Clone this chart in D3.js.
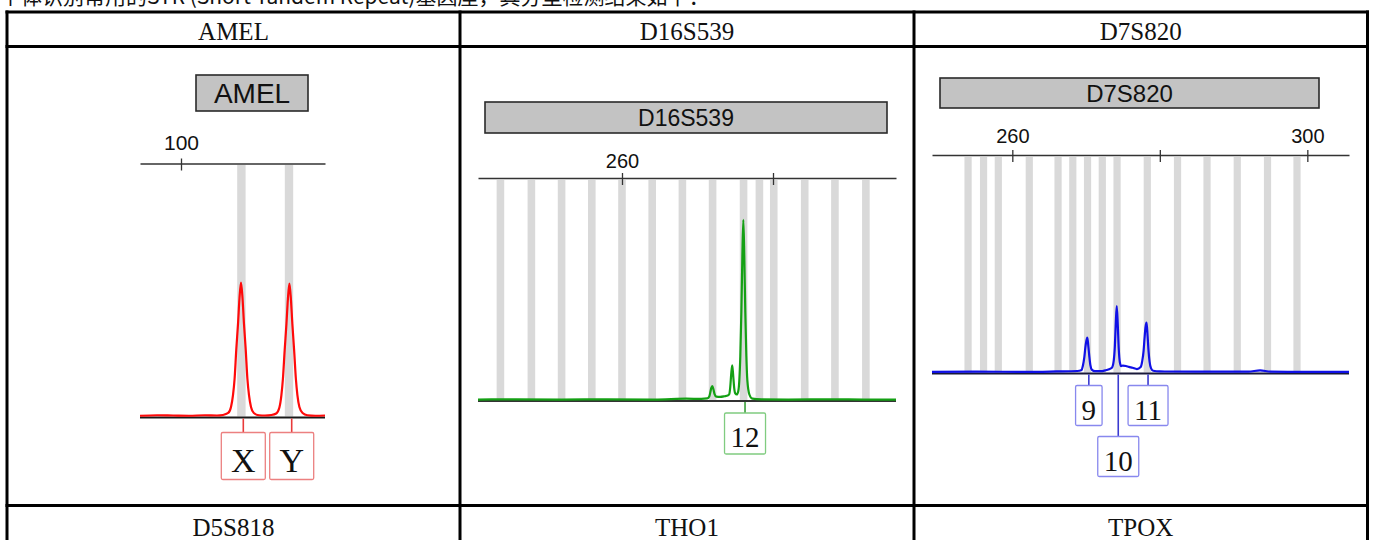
<!DOCTYPE html>
<html><head><meta charset="utf-8">
<script src="https://cdn.jsdelivr.net/npm/d3@7"></script>
<style>html,body{margin:0;padding:0;background:#fff;overflow:hidden}</style>
</head><body><svg id="c" width="1375" height="540"></svg>
<script>
// ---------------- data ----------------
const captionText = "个体识别常用的STR (Short Tandem Repeat)基因座，其分型检测结果如下：";
const topHeaders = ["AMEL", "D16S539", "D7S820"];
const bottomHeaders = ["D5S818", "THO1", "TPOX"];

// AMEL panel (size in bp, height in RFU-like units 0..1000)
const amelName = "AMEL";
const amelRange = [94.875, 118];
const amelTicks = [100];
const amelTickLabels = ["100"];
const amelBins = [107.55, 113.5];
const amelAlleles = ["X", "Y"];
const amelAlleleSizes = [107.5, 113.55];
const amelAlleleLevels = [0, 0];
const amelTrace = [
  [94.875,3],[97,5],[99,4],[101,3],[103,5],[104.5,4],[105.25,6],[105.9,14],[106.25,38],[106.5,85],
  [106.7,150],[106.91,266],[107.13,370],[107.31,470],[107.5,532],[107.69,470],[107.87,370],[108.09,266],
  [108.3,150],[108.5,85],[108.75,38],[109.1,14],[109.75,5],[110.5,4],[111.3,6],[111.9,12],[112.3,36],
  [112.55,85],[112.74,150],[112.96,264],[113.18,368],[113.36,466],[113.55,528],[113.74,466],[113.92,368],
  [114.14,264],[114.36,150],[114.55,85],[114.8,38],[115.2,14],[115.8,5],[116.8,3],[118,4]
];

// D16S539 panel
const d16Name = "D16S539";
const d16Range = [240.93, 296.29];
const d16Ticks = [260, 280];
const d16TickLabels = ["260", ""];
const d16Bins = [243.9, 248.0, 252.0, 256.0, 260.0, 264.0, 268.0, 272.0, 276.1, 278.2, 280.1, 284.2, 288.2, 292.3];
const d16Alleles = ["12"];
const d16AlleleSizes = [276.07];
const d16AlleleLevels = [0];
const d16Trace = [
  [240.93,2],[246,3],[252,2],[258,3],[264,2],[266.5,4],[268.5,6],[270.5,5],[271.3,7],[271.56,16],
  [271.7,35],[271.83,55],[271.96,63],[272.1,50],[272.25,28],[272.5,15],[273,14],[273.6,17],[274.0,20],
  [274.2,26],[274.34,60],[274.47,120],[274.6,157],[274.73,110],[274.86,55],[275.0,30],[275.2,25],
  [275.4,40],[275.54,90],[275.67,200],[275.81,400],[275.94,650],[276.07,819],[276.2,650],[276.33,400],
  [276.47,200],[276.6,90],[276.87,25],[277.27,6],[278.5,3],[282,2],[288,3],[292,2],[296.29,2]
];

// D7S820 panel
const d7Name = "D7S820";
const d7Range = [249.11, 305.65];
const d7Ticks = [260, 280, 300];
const d7TickLabels = ["260", "", "300"];
const d7Bins = [254.0, 256.1, 258.1, 262.3, 266.2, 268.2, 270.2, 272.2, 274.2, 278.3, 282.4, 286.4, 290.5, 294.6, 298.6];
const d7Alleles = ["9", "10", "11"];
const d7AlleleSizes = [270.17, 274.16, 278.2];
const d7AlleleLevels = [0, 1, 0];
const d7Trace = [
  [249.11,3],[255,4],[262,3],[266,5],[268.8,7],[269.4,12],[269.56,30],[269.76,70],[269.9,115],[270.03,145],
  [270.17,162],[270.3,125],[270.44,75],[270.58,35],[270.8,12],[271.2,6],[272,6],[272.6,10],[273.1,15],
  [273.5,22],[273.75,55],[273.9,120],[274.03,230],[274.16,308],[274.3,220],[274.43,110],[274.57,50],
  [274.75,30],[275.0,32],[275.4,30],[275.8,26],[276.3,22],[276.9,16],[277.4,25],[277.6,50],[277.8,100],
  [277.93,160],[278.06,210],[278.2,231],[278.34,170],[278.47,100],[278.61,50],[278.8,20],[279.1,8],
  [280,5],[285,4],[292,4],[293.6,10],[295,4],[300,3],[305.65,3]
];

// ---------------- layout / style ----------------
const svg = d3.select("#c");
svg.append("rect").attr("width",1375).attr("height",540).attr("fill","#fff");

const SERIF = "'Liberation Serif', 'Times New Roman', serif";
const SANS = "'Liberation Sans', Arial, sans-serif";

// caption (cut off at the top of the picture, as in the reference)
svg.append("text").attr("x", 0).attr("y", 4)
  .attr("font-family", "'Noto Sans CJK SC', sans-serif").attr("font-size", 21).attr("fill", "#111")
  .text(captionText);

// table grid
const colX = [7, 460, 914, 1367.5];
const rowY = [12, 46.5, 505.5];
const grid = svg.append("g").attr("stroke", "#000").attr("stroke-width", 3);
rowY.forEach(yv => grid.append("line").attr("x1", colX[0] - 1.5).attr("x2", colX[3] + 1.5).attr("y1", yv).attr("y2", yv));
colX.forEach(xv => grid.append("line").attr("x1", xv).attr("x2", xv).attr("y1", rowY[0] - 1.5).attr("y2", 540));

const colCenters = [0,1,2].map(i => (colX[i] + colX[i+1]) / 2);
svg.selectAll("text.h1").data(topHeaders).join("text").attr("class","h1")
  .attr("x", (d,i) => colCenters[i]).attr("y", 40).attr("text-anchor","middle")
  .attr("font-family", SERIF).attr("font-size", 25).attr("fill","#111").text(d => d);
svg.selectAll("text.h2").data(bottomHeaders).join("text").attr("class","h2")
  .attr("x", (d,i) => colCenters[i]).attr("y", 536).attr("text-anchor","middle")
  .attr("font-family", SERIF).attr("font-size", 25).attr("fill","#111").text(d => d);

function drawPanel(cfg) {
  const g = svg.append("g");
  const x = d3.scaleLinear().domain(cfg.range).range(cfg.axisX);
  const y = d3.scaleLinear().domain([0, 1000]).range([cfg.baseY, cfg.binTop]);

  // bins
  g.selectAll("rect.bin").data(cfg.bins).join("rect").attr("class","bin")
    .attr("x", d => x(d) - cfg.binW / 2).attr("y", cfg.binTop)
    .attr("width", cfg.binW).attr("height", cfg.baseY - cfg.binTop)
    .attr("fill", "#d9d9d9");

  // axis
  const ax = d3.axisBottom(x).tickValues(cfg.ticks).tickSize(7).tickSizeOuter(0)
    .tickFormat(d => cfg.tickLabels[cfg.ticks.indexOf(d)]);
  const axG = g.append("g").attr("transform", `translate(0,${cfg.axisY})`).call(ax);
  axG.select(".domain").attr("stroke", "#333").attr("stroke-width", 1.6);
  axG.selectAll(".tick line").attr("y1", -5).attr("y2", 7).attr("stroke", "#333").attr("stroke-width", 1.3);
  axG.selectAll(".tick text").attr("y", cfg.tickLabelDy).attr("dy", 0)
    .attr("font-family", SANS).attr("font-size", cfg.tickFont).attr("fill", "#111");

  // baseline
  g.append("line").attr("x1", cfg.axisX[0]).attr("x2", cfg.axisX[1])
    .attr("y1", cfg.baseY + 1).attr("y2", cfg.baseY + 1)
    .attr("stroke", cfg.baseColor).attr("stroke-width", 2);

  // trace
  const line = d3.line().x(d => x(d[0])).y(d => y(d[1])).curve(d3.curveMonotoneX);
  g.append("path").datum(cfg.trace).attr("d", line)
    .attr("fill", "none").attr("stroke", cfg.color).attr("stroke-width", 2.2)
    .attr("stroke-linejoin", "round");

  // title box
  g.append("rect").attr("x", cfg.title.x).attr("y", cfg.title.y)
    .attr("width", cfg.title.w).attr("height", cfg.title.h)
    .attr("fill", "#c3c3c3").attr("stroke", "#2a2a2a").attr("stroke-width", 1.6);
  g.append("text").attr("x", cfg.title.x + cfg.title.w / 2).attr("y", cfg.title.y + cfg.title.h / 2 + cfg.title.size * 0.36)
    .attr("text-anchor", "middle").attr("font-family", SANS).attr("font-size", cfg.title.size)
    .attr("fill", "#111").text(cfg.name);

  // allele labels
  cfg.alleles.forEach((lab, i) => {
    const cx = x(cfg.alleleSizes[i]) + cfg.labelDx;
    const top = cfg.baseY + cfg.boxGap + cfg.alleleLevels[i] * cfg.rowStep;
    g.append("line").attr("x1", cx).attr("x2", cx).attr("y1", cfg.baseY + 2).attr("y2", top)
      .attr("stroke", cfg.connColor).attr("stroke-width", 1.6);
    const box = g.append("rect");
    const t = g.append("text").attr("x", cx).attr("y", top + cfg.boxH - cfg.textBottom)
      .attr("text-anchor", "middle").attr("font-family", SERIF).attr("font-size", cfg.labelFont)
      .attr("fill", "#111").text(lab);
    const w = cfg.boxW ? cfg.boxW : t.node().getComputedTextLength() + cfg.boxPad;
    box.attr("x", cx - w / 2).attr("y", top).attr("width", w).attr("height", cfg.boxH)
      .attr("fill", "#fff").attr("stroke", cfg.boxColor).attr("stroke-width", 1.3).attr("rx", 1.5);
  });
}

drawPanel({
  name: amelName, range: amelRange, ticks: amelTicks, tickLabels: amelTickLabels, bins: amelBins,
  alleles: amelAlleles, alleleSizes: amelAlleleSizes, alleleLevels: amelAlleleLevels, trace: amelTrace,
  axisX: [140, 325], axisY: 163.5, baseY: 416.5, binTop: 165, binW: 8.4,
  tickLabelDy: -13.5, tickFont: 21,
  title: { x: 196, y: 75, w: 112, h: 36, size: 28 },
  color: "#ff0a0a", baseColor: "#1a1a1a", connColor: "#e83a3a", boxColor: "#ec8080",
  labelDx: 2.3, boxGap: 16, rowStep: 51, boxH: 47, boxW: 44, textBottom: 8, labelFont: 34, boxPad: 20
});

drawPanel({
  name: d16Name, range: d16Range, ticks: d16Ticks, tickLabels: d16TickLabels, bins: d16Bins,
  alleles: d16Alleles, alleleSizes: d16AlleleSizes, alleleLevels: d16AlleleLevels, trace: d16Trace,
  axisX: [478, 896], axisY: 178, baseY: 400, binTop: 180, binW: 7.6,
  tickLabelDy: -10, tickFont: 20,
  title: { x: 485, y: 102, w: 402, h: 31, size: 23 },
  color: "#14a014", baseColor: "#333", connColor: "#3aa03a", boxColor: "#80cc80",
  labelDx: 1.7, boxGap: 13, rowStep: 51, boxH: 41, boxW: 0, textBottom: 7, labelFont: 29, boxPad: 12
});

drawPanel({
  name: d7Name, range: d7Range, ticks: d7Ticks, tickLabels: d7TickLabels, bins: d7Bins,
  alleles: d7Alleles, alleleSizes: d7AlleleSizes, alleleLevels: d7AlleleLevels, trace: d7Trace,
  axisX: [932, 1349], axisY: 155, baseY: 372.5, binTop: 157, binW: 7.2,
  tickLabelDy: -11.7, tickFont: 20,
  title: { x: 940, y: 78, w: 379, h: 30, size: 24 },
  color: "#1010e6", baseColor: "#1a1a3a", connColor: "#3a3ad0", boxColor: "#8888ee",
  labelDx: 1.5, boxGap: 13, rowStep: 51, boxH: 40, boxW: 0, textBottom: 6, labelFont: 29, boxPad: 12
});
</script>
</body></html>
